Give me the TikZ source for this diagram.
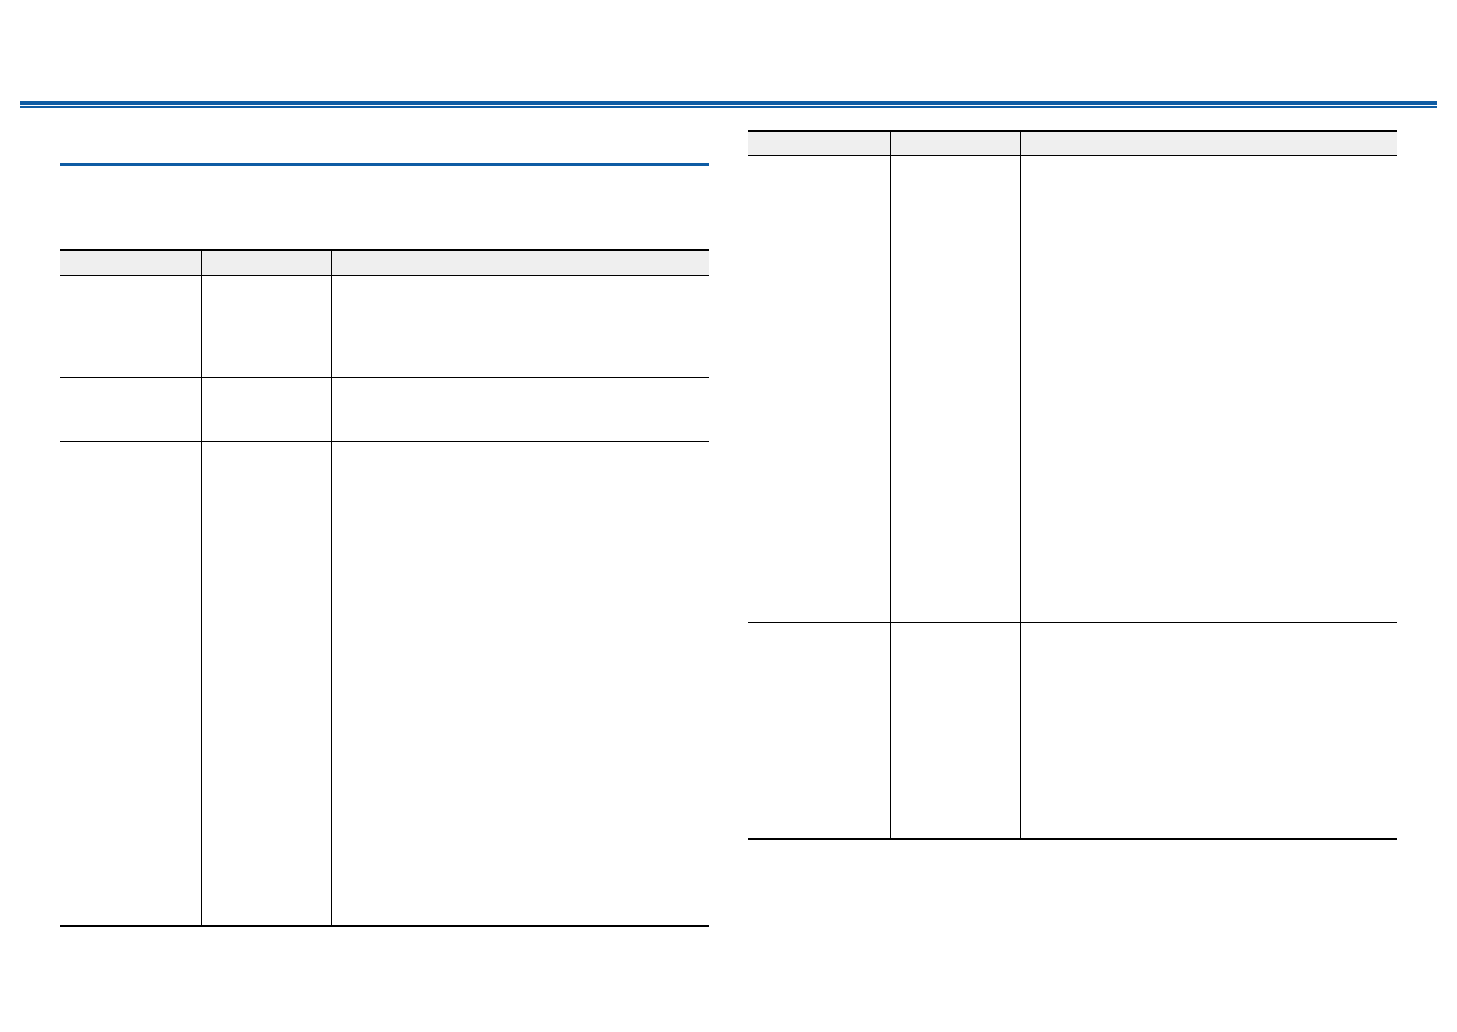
\documentclass[tikz,border=0pt]{standalone}
\definecolor{bandblue}{RGB}{14,92,164}
\definecolor{headgray}{RGB}{239,239,239}
\tikzset{
  rule/.style={line width=0.75pt, black},
  headfill/.style={fill=headgray, draw=none},
}
\begin{document}
\begin{tikzpicture}[x=0.5pt, y=-0.5pt]
\useasboundingbox[fill=white] (0,0) rectangle (1457,1032);
% top band
\fill[bandblue] (20,100.7) rectangle (1437,104.8);
\fill[bandblue] (20,106) rectangle (1437,107.8);
% section heading rule
\fill[bandblue] (60,162.8) rectangle (709,165.8);
% left table
\fill[headfill] (60,250) rectangle (709,275);
\draw[rule] (60,250) -- (709,250);
\draw[rule] (60,275.3) -- (709,275.3);
\draw[rule] (60,377.3) -- (709,377.3);
\draw[rule] (60,441.3) -- (709,441.3);
\draw[rule] (60,926) -- (709,926);
\draw[rule] (201.4,250) -- (201.4,926);
\draw[rule] (331.6,250) -- (331.6,926);
% right table
\fill[headfill] (748,131) rectangle (1397,155);
\draw[rule] (748,130.8) -- (1397,130.8);
\draw[rule] (748,155.4) -- (1397,155.4);
\draw[rule] (748,622.3) -- (1397,622.3);
\draw[rule] (748,839) -- (1397,839);
\draw[rule] (890.4,130.8) -- (890.4,839);
\draw[rule] (1020.7,130.8) -- (1020.7,839);
\end{tikzpicture}
\end{document}
